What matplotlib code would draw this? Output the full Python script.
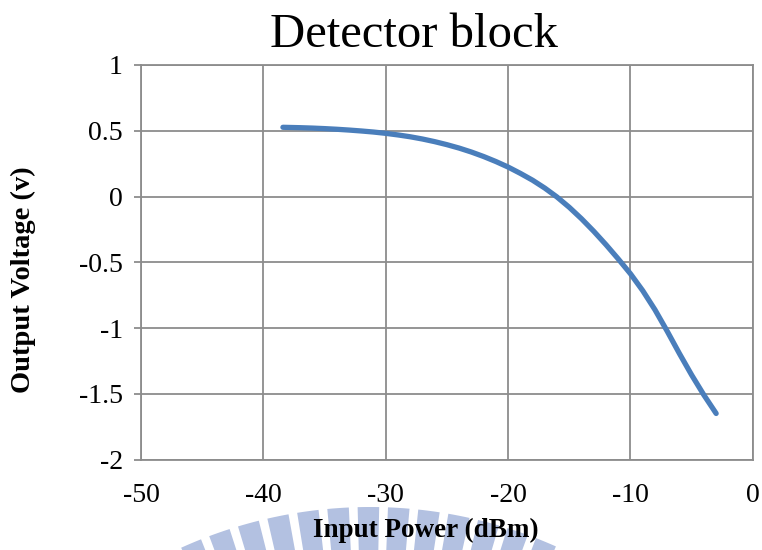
import numpy as np
import matplotlib
matplotlib.use("Agg")
import matplotlib.pyplot as plt
from matplotlib.patches import Wedge

# Detector output voltage vs. input power
input_power = [-38.4, -37, -36, -35, -34, -33, -32, -31, -30, -29, -28, -27,
               -26, -25, -24, -23, -22, -21, -20, -19, -18, -17, -16, -15,
               -14, -13, -12, -11, -10, -9, -8, -7, -6, -5, -4, -3]
output_voltage = [0.526, 0.523, 0.520, 0.516, 0.511, 0.505, 0.498, 0.490, 0.480,
                  0.468, 0.454, 0.437, 0.417, 0.394, 0.368, 0.338, 0.304, 0.266,
                  0.224, 0.176, 0.124, 0.064, -0.004, -0.082, -0.169, -0.264,
                  -0.366, -0.474, -0.587, -0.715, -0.860, -1.023, -1.193, -1.356,
                  -1.508, -1.648]

x_ticks = [-50, -40, -30, -20, -10, 0]
y_ticks = [-2, -1.5, -1, -0.5, 0, 0.5, 1]
y_tick_labels = ["-2", "-1.5", "-1", "-0.5", "0", "0.5", "1"]

plt.rcParams['font.family'] = ['Liberation Serif', 'DejaVu Serif']
plt.rcParams['axes.unicode_minus'] = False

fig = plt.figure(figsize=(7.62, 5.5), dpi=100)

# faint logo spokes behind the axis label
bg = fig.add_axes([0, 0, 1, 1], zorder=0)
bg.set_xlim(0, 762)
bg.set_ylim(550, 0)
bg.axis('off')
for a in np.arange(-23, 24, 3.8):
    bg.add_patch(Wedge((370, 965), 458, 270 + a - 1.35, 270 + a + 1.35, width=70,
                       facecolor='#b3c1e1', edgecolor='none'))

ax = fig.add_axes([0.185, 0.164, 0.803, 0.718], zorder=1)
ax.patch.set_alpha(0)

ax.plot(input_power, output_voltage, color='#4a7ebb', linewidth=3.8,
        solid_capstyle='round', solid_joinstyle='round', zorder=3)

ax.set_xlim(-50, 0)
ax.set_ylim(-2, 1)
ax.set_xticks(x_ticks)
ax.set_yticks(y_ticks)
ax.set_yticklabels(y_tick_labels)
ax.grid(True, color='#8c8c8c', linewidth=1.3)
for s in ax.spines.values():
    s.set_color('#8c8c8c')
    s.set_linewidth(1.3)
ax.tick_params(axis='x', length=0, pad=17, labelsize=20)
ax.tick_params(axis='y', length=5, color='#8c8c8c', width=1.3, pad=8, labelsize=20)

ax.set_xlabel("Input Power (dBm)", fontsize=19.5, fontweight='bold')
ax.xaxis.set_label_coords(0.466, -0.147)
ax.set_ylabel("Output Voltage (v)", fontsize=20.5, fontweight='bold')
ax.yaxis.set_label_coords(-0.172, 0.456)
ax.set_title("Detector block", fontsize=35, pad=13, x=0.446)

fig.savefig("out.png", dpi=100)
